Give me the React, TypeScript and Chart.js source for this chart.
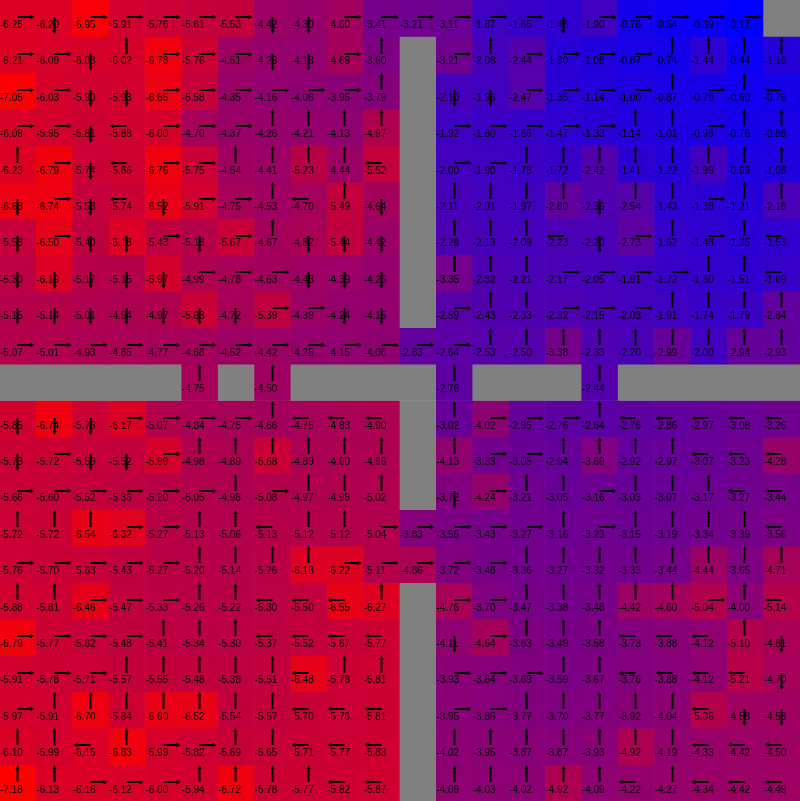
import React, { useEffect, useRef } from "react";
import { Chart, registerables } from "chart.js";

Chart.register(...registerables);

const N = 22;
const colLabels: string[] = Array.from({ length: N }, (_, i) => String(i));

// state values per row (null = wall)
const W = null;
const values: (number | null)[][] = [
  [-6.25, -6.20, -6.95, -5.91, -5.76, -5.61, -5.53, -4.42, -4.30, -4.60, -3.41, -3.21, -3.11, -1.87, -1.65, -1.46, -1.90, -0.76, -0.54, -0.39, -0.17, W],
  [-6.21, -6.09, -6.03, -6.02, -6.78, -5.76, -4.51, -4.26, -4.18, -4.69, -3.60, W, -3.21, -2.08, -2.44, -1.30, -1.08, -0.87, -0.74, -1.44, -0.44, -1.16],
  [-7.05, -6.03, -5.90, -5.93, -6.65, -5.58, -4.35, -4.16, -4.06, -3.95, -3.79, W, -2.10, -1.96, -2.47, -1.35, -1.14, -1.00, -0.87, -0.79, -0.60, -0.76],
  [-6.09, -5.95, -5.81, -5.88, -6.00, -4.70, -4.37, -4.26, -4.21, -4.13, -4.97, W, -1.92, -1.80, -1.66, -1.47, -1.33, -1.14, -1.01, -0.96, -0.76, -0.88],
  [-6.23, -6.79, -5.74, -5.86, -6.76, -5.75, -4.54, -4.41, -5.23, -4.44, -5.52, W, -2.00, -1.90, -1.78, -1.72, -2.42, -1.41, -1.22, -1.99, -0.99, -1.08],
  [-6.68, -6.74, -5.58, -5.74, -6.52, -5.91, -4.75, -4.53, -4.70, -5.49, -4.64, W, -2.11, -2.01, -1.97, -2.80, -2.36, -2.54, -1.43, -1.38, -1.21, -2.18],
  [-5.58, -6.50, -5.40, -6.18, -5.43, -5.18, -5.67, -4.67, -4.82, -5.44, -4.42, W, -2.28, -2.13, -2.09, -2.23, -2.20, -2.73, -1.62, -1.48, -1.35, -1.53],
  [-5.30, -6.19, -5.17, -5.15, -5.97, -4.99, -4.78, -4.63, -4.48, -4.39, -4.25, W, -3.35, -2.32, -2.21, -2.17, -2.05, -1.91, -1.72, -1.60, -1.51, -1.69],
  [-5.15, -5.14, -5.01, -4.94, -4.97, -5.68, -4.72, -5.39, -4.39, -4.24, -4.15, W, -2.59, -2.43, -2.33, -2.32, -2.15, -2.03, -1.91, -1.74, -1.79, -2.84],
  [-5.07, -5.01, -4.93, -4.85, -4.77, -4.68, -4.52, -4.42, -4.25, -4.15, -4.06, -2.83, -2.64, -2.53, -2.50, -3.38, -2.33, -2.20, -2.99, -2.00, -2.94, -2.93],
  [W, W, W, W, W, -4.75, W, -4.50, W, W, W, W, -2.76, W, W, W, -2.44, W, W, W, W, W],
  [-5.85, -6.74, -5.76, -6.17, -5.07, -4.84, -4.75, -4.66, -4.75, -4.83, -4.90, W, -3.02, -4.02, -2.95, -2.76, -2.64, -2.76, -2.86, -2.97, -3.08, -3.26],
  [-5.73, -5.72, -5.59, -5.52, -5.99, -4.98, -4.89, -5.68, -4.89, -4.90, -4.96, W, -4.13, -3.33, -3.05, -2.94, -3.69, -2.92, -2.97, -3.07, -3.23, -4.28],
  [-5.66, -5.60, -5.52, -5.36, -5.20, -5.05, -4.98, -5.08, -4.97, -4.98, -5.02, W, -3.72, -4.24, -3.21, -3.05, -3.16, -3.03, -3.07, -3.17, -3.27, -3.44],
  [-5.72, -5.72, -6.54, -6.32, -5.27, -5.13, -5.06, -5.13, -5.12, -5.12, -5.04, -3.83, -3.56, -3.43, -3.27, -3.16, -3.23, -3.15, -3.19, -3.34, -3.39, -3.56],
  [-5.76, -5.70, -5.63, -5.43, -5.27, -5.20, -5.14, -5.26, -6.18, -6.22, -5.11, -4.86, -3.72, -3.48, -3.36, -3.27, -3.32, -3.33, -3.44, -4.44, -3.65, -4.71],
  [-5.88, -5.81, -6.46, -5.47, -5.33, -5.26, -5.22, -5.30, -5.50, -6.55, -6.27, W, -4.76, -3.70, -3.47, -3.38, -3.48, -4.42, -4.60, -5.04, -4.00, -5.14],
  [-6.79, -5.77, -5.62, -5.48, -5.41, -5.34, -5.30, -5.37, -5.52, -5.67, -5.77, W, -4.11, -4.64, -3.63, -3.49, -3.58, -3.73, -3.88, -4.12, -5.10, -4.81],
  [-5.91, -5.78, -5.71, -5.57, -5.55, -5.48, -5.38, -5.51, -6.48, -5.78, -5.81, W, -3.93, -3.84, -3.69, -3.59, -3.67, -3.76, -3.88, -4.12, -5.21, -4.70],
  [-5.97, -5.91, -6.70, -5.84, -6.60, -6.52, -5.54, -5.57, -5.70, -5.76, -5.81, W, -3.95, -3.86, -3.77, -3.70, -3.77, -3.92, -4.04, -5.06, -4.58, -4.58],
  [-6.10, -5.99, -6.15, -6.83, -5.99, -5.82, -5.69, -5.65, -5.71, -5.77, -5.83, W, -4.02, -3.95, -3.87, -3.87, -3.93, -4.92, -4.19, -4.33, -4.42, -4.50],
  [-7.18, -6.13, -6.16, -6.12, -6.00, -5.94, -6.72, -5.78, -5.77, -5.82, -5.87, W, -4.09, -4.03, -4.02, -4.92, -4.09, -4.22, -4.27, -4.34, -4.42, -4.49],
];

// greedy action per cell: R right, L left, U up, D down, # wall
const policy: string[] = [
  "RDRRRRRDDRRRRRRDRRRRR#",
  "RRDURRRDDRU#RURRRRUUUU",
  "RRDDRRRRRRU#DDRRRRURUL",
  "RRDLRRRUUUU#RRRRRUURUU",
  "URDLRRUUUUL#RRUUUUUUUU",
  "DRDLDRRULUD#UUUUDUURUU",
  "DRDDRDRUDDD#UUULDRURUL",
  "DDDDDRRRDDD#UUURRRRUUL",
  "DDDDDDDRRDD#RUURRRUUUU",
  "RRRRRRRRRRRRRUUUUUUUUU",
  "#####U#U####U###U#####",
  "DDDRRRRULLL#URRRULLLLL",
  "DRDDRUUUUUU#URRUUUULLL",
  "RRRRRRURUUU#DRUURUUULL",
  "UUURRUULUURRRRRURUUUUL",
  "RRRRRUUUURRRRRUUUUUUUU",
  "UURRRUULLLU#RRUUUUURUL",
  "RRRRUUULLLL#DRUUULLLUD",
  "RRRUUUUULUU#RRRUULLLLD",
  "RUUUUUUULLL#RRUUUUULDD",
  "UULURRUULLL#UUUUUUULLL",
  "UURRRUUUULL#UUUUULULLL",
];

const vMin = -7.18;
const vMax = -0.17;
const wallColor = "rgb(128,128,128)";

function cellColor(v: number | null): string {
  if (v === null) return wallColor;
  let t = (v - vMax) / (vMin - vMax);
  t = Math.max(0, Math.min(1, t));
  return `rgb(${Math.round(255 * t)},0,${Math.round(255 * (1 - t))})`;
}

const cellPlugin = {
  id: "cellLabels",
  afterDatasetsDraw(chart: any) {
    const { ctx, scales } = chart;
    const xs = scales.x;
    const ys = scales.y;
    const cw = xs.width / N;
    ctx.save();
    for (let r = 0; r < N; r++) {
      for (let c = 0; c < N; c++) {
        const v = values[r][c];
        if (v === null) continue;
        const cx = xs.getPixelForValue(c);
        const left = cx - cw / 2;
        const top = ys.getPixelForValue(r);
        const bottom = ys.getPixelForValue(r + 1);
        const cy = (top + bottom) / 2;
        // text
        ctx.fillStyle = "#000";
        ctx.font = '10px "Liberation Sans", Arial, sans-serif';
        ctx.textAlign = "left";
        ctx.textBaseline = "alphabetic";
        ctx.fillText(v.toFixed(2), left, top + 28);
        // arrow
        const a = policy[r][c];
        let dx = 0, dy = 0;
        if (a === "R") dx = 1;
        else if (a === "L") dx = -1;
        else if (a === "U") dy = -1;
        else if (a === "D") dy = 1;
        else continue;
        const ax = Math.round(cx) - 0.5;
        const ay = Math.round(cy) - 1;
        const len = 17;
        const headLen = 4;
        const headW = 2.2;
        ctx.strokeStyle = "#000";
        ctx.lineWidth = 2;
        ctx.beginPath();
        ctx.moveTo(ax, ay);
        ctx.lineTo(ax + dx * (len - headLen + 1), ay + dy * (len - headLen + 1));
        ctx.stroke();
        const tx = ax + dx * len;
        const ty = ay + dy * len;
        const bx = ax + dx * (len - headLen);
        const by = ay + dy * (len - headLen);
        ctx.beginPath();
        ctx.moveTo(tx, ty);
        ctx.lineTo(bx - dy * headW, by + dx * headW);
        ctx.lineTo(bx + dy * headW, by - dx * headW);
        ctx.closePath();
        ctx.fillStyle = "#000";
        ctx.fill();
      }
    }
    ctx.restore();
  },
};

export default function App() {
  const ref = useRef<HTMLCanvasElement | null>(null);
  useEffect(() => {
    if (!ref.current) return;
    const datasets = values.map((row, r) => ({
      label: `row ${r}`,
      data: row.map(() => [r, r + 1] as [number, number]),
      backgroundColor: row.map((v) => cellColor(v)),
      borderWidth: 0,
      barPercentage: 1,
      categoryPercentage: 1,
      grouped: false,
    }));
    const chart = new Chart(ref.current, {
      type: "bar",
      data: { labels: colLabels, datasets: datasets as any },
      options: {
        animation: false,
        responsive: false,
        devicePixelRatio: 1,
        layout: { padding: 0 },
        plugins: { legend: { display: false }, tooltip: { enabled: false } },
        scales: {
          x: { type: "category", display: false, offset: true, grid: { display: false } },
          y: { type: "linear", min: 0, max: N, reverse: true, display: false, grid: { display: false } },
        },
      },
      plugins: [cellPlugin],
    });
    return () => chart.destroy();
  }, []);
  return (
    <div style={{ position: "fixed", left: 0, top: 0, width: 800, height: 801, margin: 0 }}>
      <canvas ref={ref} width={800} height={801} style={{ display: "block" }} />
    </div>
  );
}
